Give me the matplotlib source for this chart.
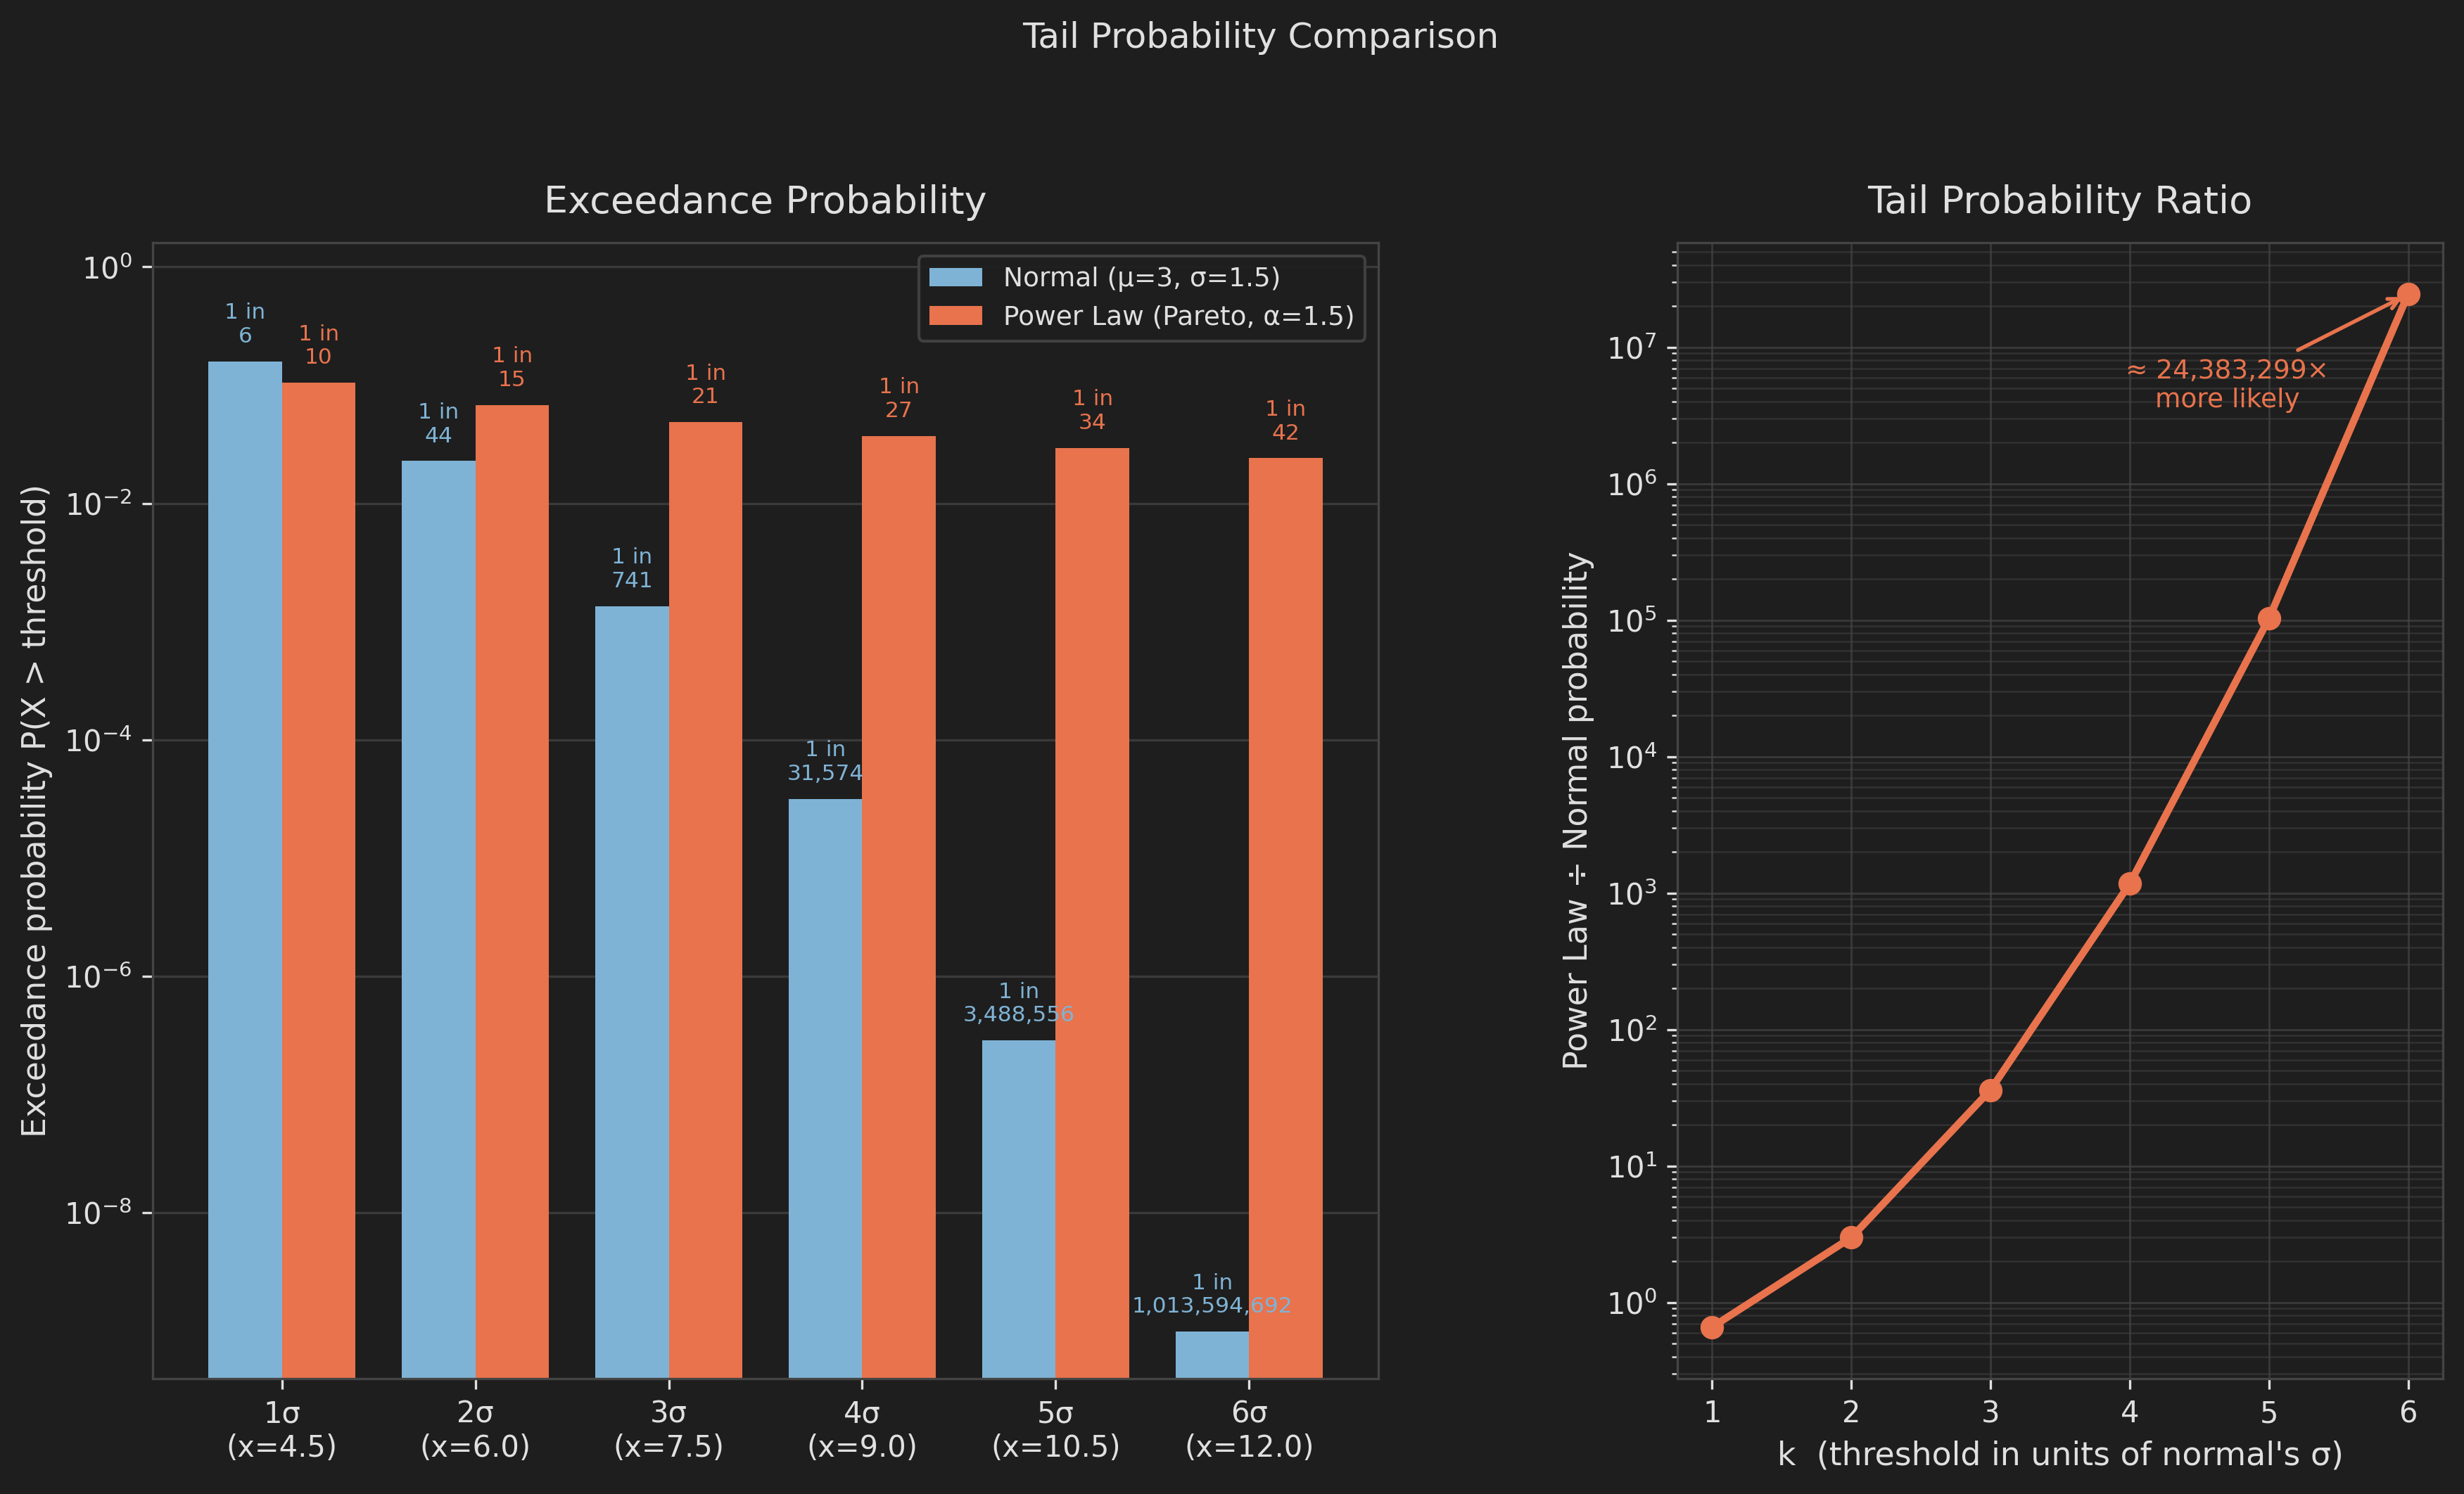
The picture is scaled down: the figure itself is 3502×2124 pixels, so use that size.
import numpy as np
import matplotlib
matplotlib.use('Agg')
import matplotlib.pyplot as plt
from matplotlib.ticker import NullLocator

# data
k_vals = [1, 2, 3, 4, 5, 6]
x_labels = ['1σ\n(x=4.5)', '2σ\n(x=6.0)', '3σ\n(x=7.5)',
            '4σ\n(x=9.0)', '5σ\n(x=10.5)', '6σ\n(x=12.0)']
normal_p = [1.587e-1, 2.275e-2, 1.350e-3, 3.167e-5, 2.867e-7, 9.866e-10]
pareto_p = [1.048e-1, 6.804e-2, 4.869e-2, 3.704e-2, 2.939e-2, 2.406e-2]
normal_one_in = [6, 44, 741, 31574, 3488556, 1013594692]
pareto_one_in = [10, 15, 21, 27, 34, 42]
ratio = [0.6603, 2.991, 36.07, 1169.4, 102543, 24383299]

BG = '#1e1e1e'
FG = '#e0e0e0'
BLUE = '#7fb3d5'
ORANGE = '#e8734d'
SPINE = '#444444'
GRID = '#3a3a3a'

plt.rcParams['font.family'] = ['DejaVu Sans']
plt.rcParams['text.color'] = FG
plt.rcParams['axes.labelcolor'] = FG

W, H = 3502, 2124
fig = plt.figure(figsize=(W / 300, H / 300), dpi=300, facecolor=BG)
gs = fig.add_gridspec(1, 2, width_ratios=[1742, 1088],
                      left=217 / W, right=3472 / W,
                      bottom=1 - 1960 / H, top=1 - 345 / H, wspace=0.3004)
ax1 = fig.add_subplot(gs[0])
ax2 = fig.add_subplot(gs[1])

for ax in (ax1, ax2):
    ax.set_facecolor(BG)
    for s in ax.spines.values():
        s.set_color(SPINE)
    ax.tick_params(colors=FG, labelsize=10, which='both')

# left: bars
x = np.arange(len(k_vals))
w = 0.38
ax1.bar(x - w / 2, normal_p, w, color=BLUE, label='Normal (μ=3, σ=1.5)', zorder=2)
ax1.bar(x + w / 2, pareto_p, w, color=ORANGE, label='Power Law (Pareto, α=1.5)', zorder=2)
ax1.set_yscale('log')
ax1.set_ylim(3.95e-10, 1.6)
ax1.yaxis.set_minor_locator(NullLocator())
ax1.set_xticks(x)
ax1.set_xticklabels(x_labels)
ax1.grid(axis='y', color=GRID, lw=0.8, zorder=0)
ax1.set_axisbelow(True)
ax1.set_ylabel('Exceedance probability P(X > threshold)', fontsize=11)
ax1.set_title('Exceedance Probability', fontsize=13, color=FG, pad=10)

for xi, p, n in zip(x, normal_p, normal_one_in):
    ax1.annotate(f'1 in\n{n:,}', (xi - w / 2, p), xytext=(0, 5),
                 textcoords='offset points', ha='center', va='bottom',
                 fontsize=7.5, color=BLUE, zorder=3)
for xi, p, n in zip(x, pareto_p, pareto_one_in):
    ax1.annotate(f'1 in\n{n:,}', (xi + w / 2, p), xytext=(0, 5),
                 textcoords='offset points', ha='center', va='bottom',
                 fontsize=7.5, color=ORANGE, zorder=3)

leg = ax1.legend(loc='upper right', fontsize=9, facecolor=BG, edgecolor=SPINE,
                 framealpha=0.9)
for t in leg.get_texts():
    t.set_color(FG)

# right: ratio
ax2.plot(k_vals, ratio, color=ORANGE, lw=2.5, marker='o', ms=7, zorder=3)
ax2.set_yscale('log')
ax2.grid(which='major', color='#444444', lw=0.7, alpha=0.7)
ax2.grid(which='minor', color='#444444', lw=0.6, alpha=0.5)
ax2.set_xlabel("k  (threshold in units of normal's σ)", fontsize=11)
ax2.set_ylabel('Power Law ÷ Normal probability', fontsize=11)
ax2.set_title('Tail Probability Ratio', fontsize=13, color=FG, pad=10)
ax2.annotate(f'≈ {ratio[-1]:,.0f}×\nmore likely', xy=(k_vals[-1], ratio[-1]),
             xytext=(4.7, 5.2e6), ha='center', va='center', fontsize=9,
             color=ORANGE,
             arrowprops=dict(arrowstyle='->', color=ORANGE, lw=1.3))

fig.text(1792 / W, 1 - 68 / H, 'Tail Probability Comparison', ha='center',
         va='baseline', fontsize=12, color=FG)

fig.savefig('out.png', dpi=300, facecolor=BG)
